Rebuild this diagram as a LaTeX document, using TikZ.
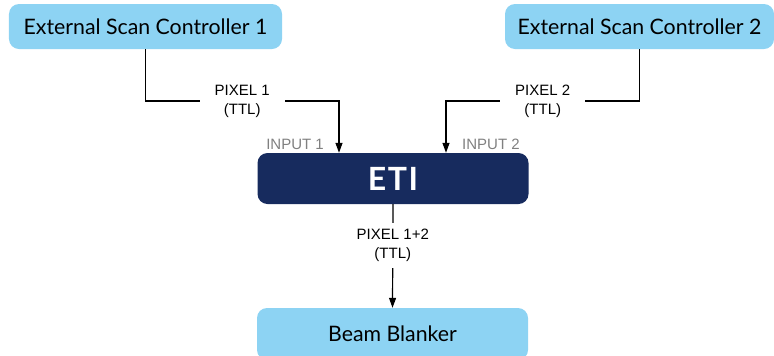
\documentclass[tikz,border=0pt]{standalone}
\usepackage{fontspec}
\setmainfont{Lato}
\newfontfamily\labelfont{Liberation Sans}
\usetikzlibrary{arrows.meta}
\usetikzlibrary{positioning}
\definecolor{boxblue}{RGB}{141,211,243}
\definecolor{etinavy}{RGB}{23,43,94}
\definecolor{portgray}{RGB}{128,128,128}

\begin{document}
\begin{tikzpicture}[x=1bp,y=-1bp,
		unit/.style={draw=none, fill=boxblue, rounded corners=10bp, minimum height=45bp,
			font=\fontsize{21.3bp}{24bp}\selectfont, text=black, inner sep=0pt},
		wire/.style={line width=1.2bp, draw=black, -{Triangle[length=10bp,width=7bp]}},
		sig/.style={fill=white, align=center, inner xsep=15bp, inner ysep=6bp,
			font=\labelfont\fontsize{15bp}{19bp}\selectfont},
		port/.style={text=portgray, inner sep=0pt, font=\labelfont\fontsize{15bp}{18bp}\selectfont}]
		%fix size of the page
		\useasboundingbox (0,0) rectangle (774,355);
		
		%draw boxes
		\node[unit, minimum width=273bp] (esc1) at (145.5,26.5) {External Scan Controller 1};
		\node[unit, minimum width=269bp] (esc2) at (639.5,26.5) {External Scan Controller 2};
		\node[unit, fill=etinavy, text=white, minimum width=271bp, minimum height=51bp,
			font=\fontsize{32bp}{34bp}\selectfont\bfseries\addfontfeatures{LetterSpace=5}] (eti) at (393,178.5) {ETI};
		\node[unit, minimum width=271bp, minimum height=52bp] (beam) at (392.5,334) {Beam Blanker};
		
		%inputs of the ETI
		\coordinate (in1) at ([xshift=-54bp]eti.north);
		\coordinate (in2) at ([xshift=53bp]eti.north);
		\node[port, anchor=base east] (port1) at ([xshift=-15bp,yshift=3bp]in1) {INPUT 1};
		\node[port, anchor=base west] (port2) at ([xshift=16bp,yshift=3bp]in2) {INPUT 2};
		
		%draw signal lines
		\draw[wire] (esc1.south) -- (esc1.south |- 0,101) -| node[sig, pos=0.25] (pix1) {PIXEL 1\\(TTL)} (in1);
		\draw[wire] (esc2.south) -- (esc2.south |- 0,101) -| node[sig, pos=0.25] (pix2) {PIXEL 2\\(TTL)} (in2);
		\draw[wire] (eti.south) -- node[sig, pos=0.4] (pix12) {PIXEL 1+2\\(TTL)} (beam.north);
	\end{tikzpicture}
\end{document}
